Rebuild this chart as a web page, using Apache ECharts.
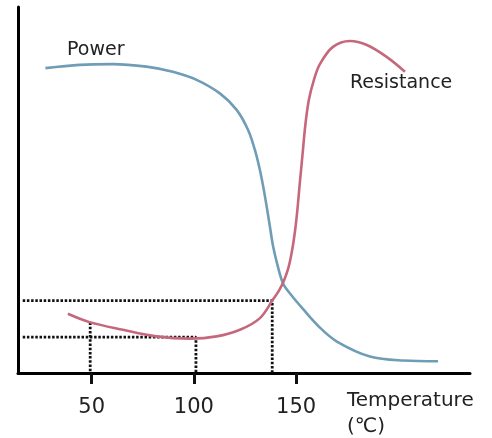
<!DOCTYPE html>
<html>
<head>
<meta charset="utf-8">
<script src="https://cdn.jsdelivr.net/npm/echarts@6/dist/echarts.min.js"></script>
<style>
html,body{margin:0;padding:0;background:#fff;}
#chart{width:492px;height:438px;}
</style>
</head>
<body>
<div id="chart"></div>
<script>
// ---- data ----
var xTicks = [50, 100, 150];
var powerTemp = [27.4, 44.2, 60.3, 76.8, 89.7, 101.3, 112.7, 120.9, 126.5, 129.8, 132.3, 134.2, 135.7, 137.2, 138.6, 140.6, 143.5, 147.0, 153.3, 161.6, 169.9, 186.1, 202.3, 219.4];
var powerVal  = [83.3, 84.2, 84.4, 83.7, 82.3, 80.1, 76.4, 71.9, 66.4, 61.0, 55.4, 50.0, 45.1, 39.9, 35.0, 30.1, 24.6, 21.7, 17.5, 12.4, 8.6, 4.5, 3.4, 3.2];
var resTemp = [38.4, 49.0, 65.3, 81.7, 98.0, 111.1, 122.5, 132.3, 138.6, 141.6, 144.0, 146.2, 147.9, 149.4, 150.6, 151.8, 153.1, 154.5, 156.2, 158.7, 161.6, 168.0, 176.3, 184.6, 194.4, 203.2];
var resVal  = [16.2, 13.9, 11.8, 10.0, 9.4, 10.0, 11.8, 15.0, 20.0, 22.5, 25.2, 28.7, 33.1, 38.6, 44.6, 52.0, 59.6, 67.8, 74.6, 80.1, 84.4, 89.1, 90.7, 89.6, 86.3, 82.3];
var guideUpperX = [16.3, 138.3, 138.3];
var guideUpperY = [19.8, 19.8, 0];
var guideLowerX = [16.3, 101, 101];
var guideLowerY = [9.8, 9.8, 0];
var guide50X = [49.3, 49.3];
var guide50Y = [13.8, 0];
var powerLabelPos = [52, 88.3];
var resLabelPos = [201.3, 79.3];

function zip(a, b) { return a.map(function (v, i) { return [v, b[i]]; }); }

var FONT = 'DejaVu Sans';
var chart = echarts.init(document.getElementById('chart'), null, {renderer: 'canvas'});
var dotStyle = {color: '#111', width: 2.8, type: [2.5, 1.7], cap: 'butt'};

chart.setOption({
  animation: false,
  backgroundColor: '#fff',
  grid: {left: 18, right: 22, top: 7, bottom: 65, containLabel: false, outerBoundsMode: 'none'},
  xAxis: [
    {type: 'value', min: 14, max: 235, position: 'bottom',
     axisLine: {show: true, onZero: false, lineStyle: {color: '#000', width: 3}},
     axisTick: {show: false}, axisLabel: {show: false}, splitLine: {show: false}},
    {type: 'value', min: 14, max: 235, position: 'bottom', offset: 7,
     axisLine: {show: false},
     axisTick: {show: true, customValues: xTicks, length: 11, lineStyle: {color: '#111', width: 3}},
     axisLabel: {show: true, customValues: xTicks, margin: 17, fontSize: 21, fontFamily: FONT, color: '#222'},
     splitLine: {show: false}}
  ],
  yAxis: {type: 'value', min: 0, max: 100,
    axisLine: {show: true, onZero: false, lineStyle: {color: '#000', width: 3}},
    axisTick: {show: false}, axisLabel: {show: false}, splitLine: {show: false}},
  graphic: [{
    type: 'text', left: 347, top: 388, z: 10,
    style: {text: 'Temperature\n(℃)', font: '20px "DejaVu Sans"', fill: '#222', lineHeight: 26}
  }],
  series: [
    {type: 'line', xAxisIndex: 0, data: zip(guideUpperX, guideUpperY), symbol: 'none', lineStyle: dotStyle, z: 1, silent: true},
    {type: 'line', xAxisIndex: 0, data: zip(guideLowerX, guideLowerY), symbol: 'none', lineStyle: dotStyle, z: 1, silent: true},
    {type: 'line', xAxisIndex: 0, data: zip(guide50X, guide50Y), symbol: 'none', lineStyle: dotStyle, z: 1, silent: true},
    {type: 'line', name: 'Power', xAxisIndex: 0, data: zip(powerTemp, powerVal), symbol: 'none', smooth: 0.35,
     lineStyle: {color: '#709db6', width: 2.6}, z: 3,
     markPoint: {symbol: 'circle', symbolSize: 0, silent: true,
       label: {show: true, position: 'inside', formatter: 'Power', fontSize: 19, fontFamily: FONT, color: '#222'},
       data: [{coord: powerLabelPos}]}},
    {type: 'line', name: 'Resistance', xAxisIndex: 0, data: zip(resTemp, resVal), symbol: 'none', smooth: 0.35,
     lineStyle: {color: '#c6687b', width: 2.6}, z: 3,
     markPoint: {symbol: 'circle', symbolSize: 0, silent: true,
       label: {show: true, position: 'inside', formatter: 'Resistance', fontSize: 19, fontFamily: FONT, color: '#222'},
       data: [{coord: resLabelPos}]}}
  ]
});
</script>
</body>
</html>
